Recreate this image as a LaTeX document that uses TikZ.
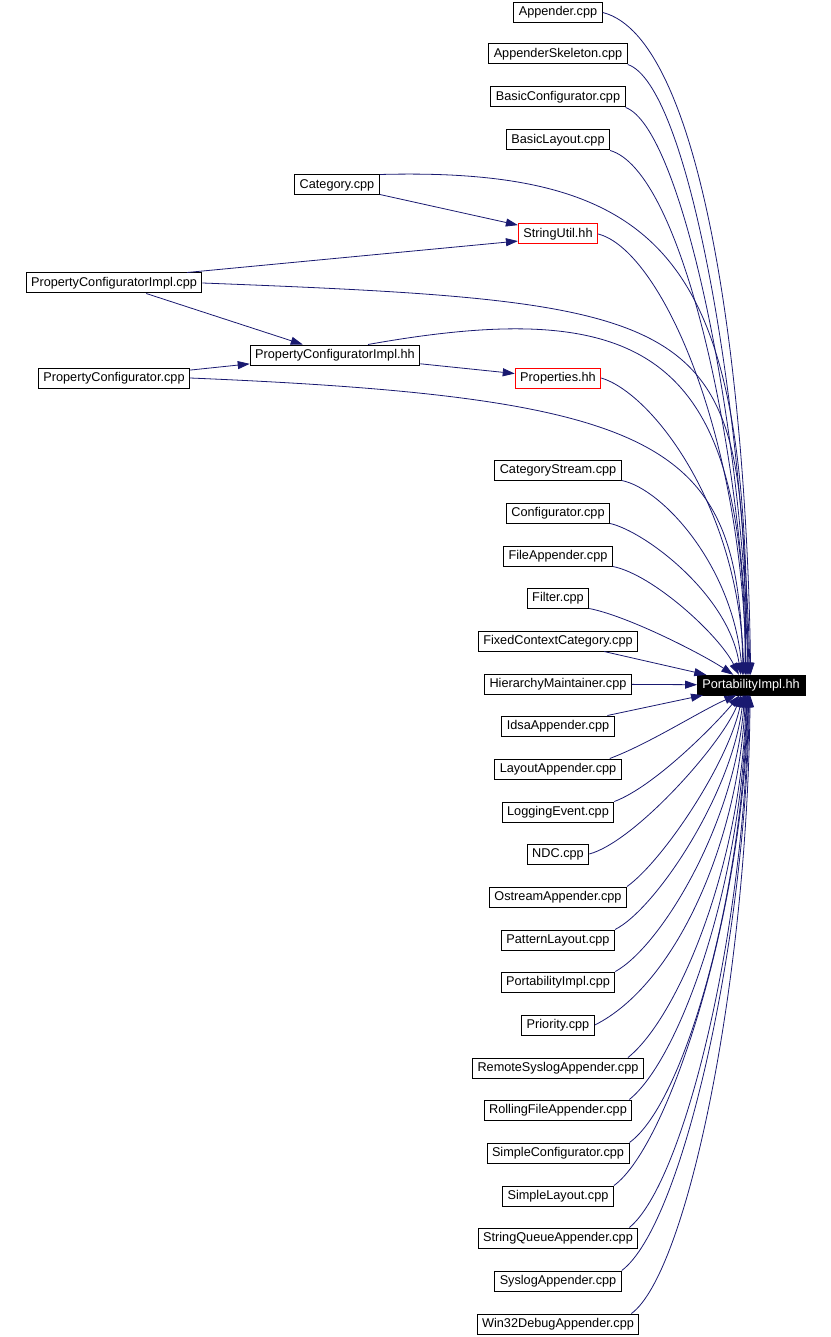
\documentclass[tikz,border=0pt]{standalone}
\usepackage{fontspec}
\setmainfont{Liberation Sans}
\usetikzlibrary{arrows.meta}
\definecolor{edgeblue}{HTML}{191970}
\begin{document}
\begin{tikzpicture}[x=1pt,y=-1pt,
  every node/.style={font=\fontsize{12.7}{14}\selectfont,inner xsep=5pt,inner ysep=0pt,minimum height=20pt},
  srcbox/.style={draw=black,line width=1pt,fill=white},
  hdrbox/.style={draw=red,line width=1pt,fill=white},
  curbox/.style={draw=black,fill=black,text=white},
  incl/.style={draw=edgeblue,line width=0.8pt,-{Triangle[length=12pt,width=8pt]}}]
\useasboundingbox (0,0) rectangle (830,1337);
% the header and what includes it
\node[curbox] (portab) at (751,685) {PortabilityImpl.hh};
\node[srcbox] (app) at (558,12.5) {Appender.cpp};
\node[srcbox] (appsk) at (558,54) {AppenderSkeleton.cpp};
\node[srcbox] (bconf) at (558,97) {BasicConfigurator.cpp};
\node[srcbox] (blay) at (558,140) {BasicLayout.cpp};
\node[srcbox] (cat) at (337,185) {Category.cpp};
\node[hdrbox] (strutil) at (558,234) {StringUtil.hh};
\node[srcbox] (pcimplcpp) at (114,283) {PropertyConfiguratorImpl.cpp};
\node[srcbox] (pcimplhh) at (335,355) {PropertyConfiguratorImpl.hh};
\node[srcbox] (pcconf) at (114,378) {PropertyConfigurator.cpp};
\node[hdrbox] (props) at (558,378) {Properties.hh};
\node[srcbox] (catstr) at (558,470) {CategoryStream.cpp};
\node[srcbox] (conf) at (558,513) {Configurator.cpp};
\node[srcbox] (fileapp) at (558,556) {FileAppender.cpp};
\node[srcbox] (filter) at (558,598) {Filter.cpp};
\node[srcbox] (fcc) at (558,641) {FixedContextCategory.cpp};
\node[srcbox] (hier) at (558,684) {HierarchyMaintainer.cpp};
\node[srcbox] (idsa) at (558,726) {IdsaAppender.cpp};
\node[srcbox] (layapp) at (558,769) {LayoutAppender.cpp};
\node[srcbox] (logev) at (558,812) {LoggingEvent.cpp};
\node[srcbox] (ndc) at (558,854) {NDC.cpp};
\node[srcbox] (ostr) at (558,897) {OstreamAppender.cpp};
\node[srcbox] (patlay) at (558,940) {PatternLayout.cpp};
\node[srcbox] (portcpp) at (558,982) {PortabilityImpl.cpp};
\node[srcbox] (prio) at (558,1025) {Priority.cpp};
\node[srcbox] (rsys) at (558,1068) {RemoteSyslogAppender.cpp};
\node[srcbox] (rfa) at (558,1110) {RollingFileAppender.cpp};
\node[srcbox] (sconf) at (558,1153) {SimpleConfigurator.cpp};
\node[srcbox] (slay) at (558,1196) {SimpleLayout.cpp};
\node[srcbox] (sqa) at (558,1238) {StringQueueAppender.cpp};
\node[srcbox] (sys) at (558,1281) {SyslogAppender.cpp};
\node[srcbox] (w32) at (558,1324) {Win32DebugAppender.cpp};
% side includes
\draw[incl] (cat) -- (strutil);
\draw[incl] ([xshift=73pt]pcimplcpp.north) -- (strutil.190);
\draw[incl] (pcimplcpp) -- (pcimplhh);
\draw[incl] (pcconf) -- (pcimplhh);
\draw[incl] (pcimplhh) -- (props);
% from above
\draw[incl] (app.east) .. controls +(100,25) and +(-4,-300) .. (portab.92);
\draw[incl] (appsk.south east) .. controls +(60,20) and +(-8,-280) .. (portab.95);
\draw[incl] (bconf.south east) .. controls +(55,20) and +(-8,-260) .. (portab.100);
\draw[incl] (blay.south east) .. controls +(70,20) and +(-8,-240) .. (portab.105);
\draw[incl] (cat.north east) .. controls +(300,-8) and +(0,-400) .. (portab.110);
\draw[incl] (strutil.east) .. controls +(60,15) and +(-5,-250) .. (portab.115);
\draw[incl] (pcimplcpp.east) .. controls +(520,20) and +(0,-360) .. (portab.118);
\draw[incl] ([xshift=33pt]pcimplhh.north) .. controls +(280,-50) and +(0,-320) .. (portab.120);
\draw[incl] (props.east) .. controls +(50,15) and +(-5,-170) .. (portab.125);
\draw[incl] (pcconf.east) .. controls +(480,20) and +(-5,-230) .. (portab.128);
\draw[incl] (catstr.south east) .. controls +(40,8) and +(-10,-110) .. (portab.130);
\draw[incl] (conf.south east) .. controls +(35,8) and +(-12,-80) .. (portab.135);
\draw[incl] (fileapp.south east) .. controls +(40,8) and +(-20,-40) .. (portab.140);
\draw[incl] (filter.south east) .. controls +(40,8) and +(-30,-20) .. (portab.150);
\draw[incl] (fcc) -- (portab);
\draw[incl] (hier) -- (portab);
% from below
\draw[incl] (idsa) -- (portab);
\draw[incl] ([xshift=-12pt]layapp.north east) .. controls +(40,-15) and +(-35,15) .. (portab.215);
\draw[incl] (logev.north east) .. controls +(40,-15) and +(-25,30) .. (portab.222);
\draw[incl] (ndc.east) .. controls +(45,-12) and +(-20,50) .. (portab.226);
\draw[incl] (ostr.north east) .. controls +(35,-25) and +(-15,70) .. (portab.230);
\draw[incl] (patlay.north east) .. controls +(40,-20) and +(-12,100) .. (portab.234);
\draw[incl] (portcpp.north east) .. controls +(45,-25) and +(-10,130) .. (portab.238);
\draw[incl] (prio.east) .. controls +(80,-40) and +(-8,150) .. (portab.242);
\draw[incl] ([xshift=-16pt]rsys.north east) .. controls +(50,-40) and +(-5,170) .. (portab.245);
\draw[incl] ([xshift=-3pt]rfa.north east) .. controls +(50,-40) and +(-5,190) .. (portab.248);
\draw[incl] (sconf.north east) .. controls +(55,-40) and +(-5,200) .. (portab.251);
\draw[incl] (slay.north east) .. controls +(55,-40) and +(-4,215) .. (portab.254);
\draw[incl] ([xshift=-9pt]sqa.north east) .. controls +(55,-45) and +(-4,235) .. (portab.257);
\draw[incl] (sys.north east) .. controls +(60,-45) and +(-4,250) .. (portab.261);
\draw[incl] ([xshift=-8pt]w32.north east) .. controls +(55,-40) and +(-3,290) .. (portab.265);
\end{tikzpicture}
\end{document}
